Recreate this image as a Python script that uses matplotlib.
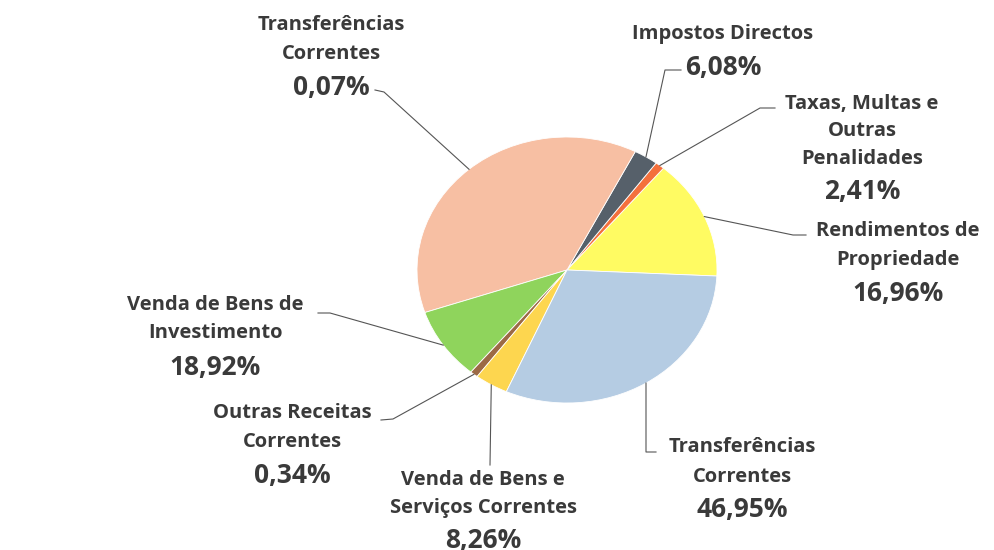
import numpy as np
import matplotlib
matplotlib.use("Agg")
import matplotlib.pyplot as plt

# slice order: counter-clockwise starting just below 3 o'clock
categories = [
    "Rendimentos de\nPropriedade",
    "Taxas, Multas e\nOutras\nPenalidades",
    "Impostos Directos",
    "Transferências\nCorrentes",
    "Venda de Bens de\nInvestimento",
    "Outras Receitas\nCorrentes",
    "Venda de Bens e\nServiços Correntes",
    "Transferências\nCorrentes",
]
# visible slice sizes (share of the pie)
shares = [14.6, 1.0, 2.6, 37.7, 8.75, 0.85, 3.6, 30.9]
# percentages printed in the labels
pct_labels = ["16,96%", "2,41%", "6,08%", "0,07%", "18,92%", "0,34%", "8,26%", "46,95%"]
colors = ["#FFFB62", "#F4703C", "#56606A", "#F7BFA3", "#8FD45C", "#9C6A45", "#FDD64F", "#B5CCE3"]

# ---- layout (pixels of the 994x550 image) ----
W, H = 994, 550
CX, CY, RX, RY = 567, 270, 150, 133
# label x centre, y of each name line, y of pct line
label_x = [898, 862, 723, 331, 215, 292, 483, 742]
name_y = [[231, 260], [104, 131, 159], [34], [25, 54], [305, 333], [413, 442], [480, 508], [447, 477]]
pct_y = [293, 191, 68, 88, 367, 475, 540, 510]
# leader line: start near text, elbow, then wedge edge
leader = [
    [(806, 235), (793, 235)],
    [(775, 108), (760, 108)],
    [(681, 70), (665, 70)],
    [(375, 90), (384, 92)],
    [(318, 313), (330, 313)],
    [(381, 420), (393, 419)],
    [(490, 465)],
    [(656, 452), (646, 452)],
]

TEXT = "#3a3a3a"
FONT = ["Open Sans", "DejaVu Sans"]


def to_data(x, y):
    return (x - CX) / RX, (CY - y) / RY


fig = plt.figure(figsize=(W / 100, H / 100), dpi=100)
ax = fig.add_axes([(CX - RX) / W, (H - CY - RY) / H, 2 * RX / W, 2 * RY / H])
wedges, _ = ax.pie(shares, colors=colors, startangle=-2.6, counterclock=True,
                   wedgeprops=dict(edgecolor="white", linewidth=0.6))
ax.set_aspect("auto")
ax.set_xlim(-1, 1)
ax.set_ylim(-1, 1)
ax.axis("off")

for i, w in enumerate(wedges):
    mid = np.deg2rad((w.theta1 + w.theta2) / 2)
    pts = [to_data(*p) for p in leader[i]] + [(np.cos(mid), np.sin(mid))]
    xs, ys = zip(*pts)
    ax.plot(xs, ys, color="#555555", lw=0.8, clip_on=False)

    for line, yy in zip(categories[i].split("\n"), name_y[i]):
        tx, ty = to_data(label_x[i], yy)
        ax.text(tx, ty, line, ha="center", va="center", fontsize=14.5,
                fontweight="bold", color=TEXT, family=FONT, clip_on=False)
    tx, ty = to_data(label_x[i], pct_y[i])
    ax.text(tx, ty, pct_labels[i], ha="center", va="center", fontsize=19,
            fontweight="bold", color=TEXT, family=FONT, clip_on=False)

fig.savefig("out.png", dpi=100, facecolor="white")
